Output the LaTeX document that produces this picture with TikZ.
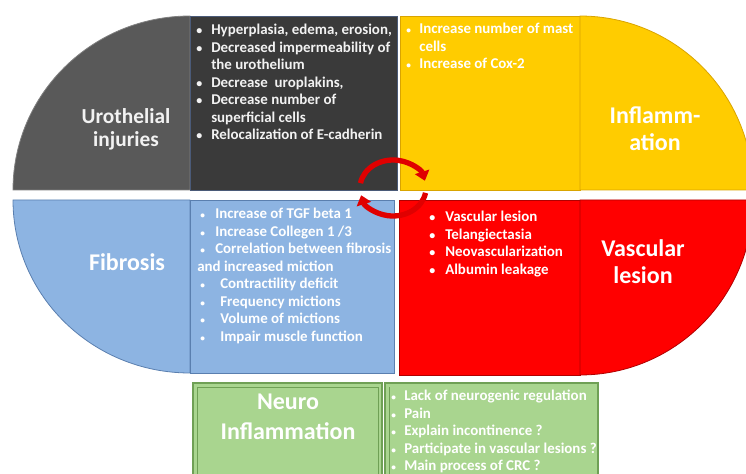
\documentclass[tikz,border=0pt]{standalone}
\usepackage{fontspec}
\setmainfont{Carlito}
\usetikzlibrary{arrows.meta}
\definecolor{uroDark}{HTML}{3A3A3A}
\definecolor{uroGray}{HTML}{595959}
\definecolor{uroEdge}{HTML}{4A5A78}
\definecolor{inflYellow}{HTML}{FFCC00}
\definecolor{inflEdge}{HTML}{D9A400}
\definecolor{fibBlue}{HTML}{8DB4E2}
\definecolor{fibEdge}{HTML}{5A7FAF}
\definecolor{vasRed}{HTML}{FF0000}
\definecolor{vasEdge}{HTML}{B00000}
\definecolor{neuGreen}{HTML}{A9D58F}
\definecolor{neuEdge}{HTML}{6FA055}
\definecolor{txtLight}{HTML}{F2F2F2}
\tikzset{
  heading/.style={align=center, text=white, inner sep=0pt,
    font=\bfseries\fontsize{18}{20.25}\selectfont},
  bullets/.style={align=left, anchor=base west, text=white, inner sep=0pt,
    font=\bfseries\fontsize{11.2}{13.1}\selectfont},
  panel/.style={line width=0.6pt},
  cycarrow/.style={line width=4pt, draw=red!88!black, -{Triangle[length=7pt, width=11pt]}}
}
\newcommand{\bul}[1]{\makebox[#1][l]{\fontsize{9}{9}\selectfont\textbullet}}
\newcommand{\sbul}[1]{\makebox[#1][l]{\fontsize{7}{7}\selectfont\textbullet}}

\begin{document}
\begin{tikzpicture}[x=0.75pt, y=-0.75pt]
  \useasboundingbox (0,0) rectangle (746,474);
  \clip (0,0) rectangle (746,474);

  % urothelial injuries
  \filldraw[panel, fill=uroGray, draw=gray] (190,190) -- (13,190)
    arc[start angle=180, end angle=270, x radius=177, y radius=174] -- cycle;
  \filldraw[panel, fill=uroDark, draw=uroEdge] (190,16) rectangle (397,190);
  \node[heading, text=txtLight, font=\bfseries\fontsize{16}{17.3}\selectfont] (uroT) at (126,129) {Urothelial\\injuries};
  % base anchor sits on the last line
  \node[bullets, text=txtLight] (uroL) at (196,139.5) {\bul{11.25pt}Hyperplasia, edema, erosion,\\
    \bul{11.25pt}Decreased impermeability of\\
    \hspace*{11.25pt}the urothelium\\
    \bul{11.25pt}Decrease~ uroplakins,\\
    \bul{11.25pt}Decrease number of\\
    \hspace*{11.25pt}superficial cells\\
    \bul{11.25pt}Relocalization of E-cadherin};

  % inflammation
  \filldraw[panel, fill=inflYellow, draw=inflEdge] (400,16) rectangle (580,190);
  \filldraw[panel, fill=inflYellow, draw=inflEdge] (580,190) -- (580,16)
    arc[start angle=270, end angle=360, x radius=173, y radius=174] -- cycle;
  \node[heading] (inflT) at (655,129) {Inflamm-\\ation};
  \node[bullets] (inflL) at (406,68.5) {\sbul{9.75pt}Increase number of mast\\
    \hspace*{9.75pt}cells\\
    \sbul{9.75pt}Increase of Cox-2};

  % fibrosis
  \filldraw[panel, fill=fibBlue, draw=fibEdge] (190,200) -- (13,200)
    arc[start angle=180, end angle=90, x radius=177, y radius=173] -- cycle;
  \filldraw[panel, fill=fibBlue, draw=fibEdge] (190,200) rectangle (394,373);
  \node[heading] (fibT) at (127,262) {Fibrosis};
  \node[bullets] (fibL) at (197,341) {\hspace*{2.25pt}\sbul{11.25pt}Increase of TGF beta 1\\
    \hspace*{2.25pt}\sbul{11.25pt}Increase Collegen 1 /3\\
    \hspace*{2.25pt}\sbul{11.25pt}Correlation between fibrosis\\
    and increased miction\\
    \hspace*{2.25pt}\sbul{15pt}Contractility deficit\\
    \hspace*{2.25pt}\sbul{15pt}Frequency mictions\\
    \hspace*{2.25pt}\sbul{15pt}Volume of mictions\\
    \hspace*{2.25pt}\sbul{15pt}Impair muscle function};

  % vascular lesion
  \filldraw[panel, fill=vasRed, draw=vasEdge] (399,200) rectangle (580,375);
  \filldraw[panel, fill=vasRed, draw=vasEdge] (580,200) -- (753,200)
    arc[start angle=0, end angle=90, x radius=173, y radius=175] -- cycle;
  \node[heading] (vasT) at (643,262) {Vascular\\lesion};
  \node[bullets] (vasL) at (429,274) {\bul{12pt}Vascular lesion\\
    \bul{12pt}Telangiectasia\\
    \bul{12pt}Neovascularization\\
    \bul{12pt}Albumin leakage};

  % neuro inflammation
  \filldraw[line width=1pt, fill=neuGreen, draw=neuEdge] (193,383) rectangle (382,480);
  \draw[line width=0.5pt, neuEdge] (197,387) rectangle (378,480);
  \filldraw[line width=1pt, fill=neuGreen, draw=neuEdge] (385,383) rectangle (598,480);
  \draw[line width=0.5pt, neuEdge] (389,387) -- (389,480);
  \node[heading, font=\bfseries\fontsize{18}{22.5}\selectfont] (neuT) at (288,417) {Neuro\\Inflammation};
  \node[bullets] (neuL) at (391,470.5) {\sbul{9.75pt}Lack of neurogenic regulation\\
    \sbul{9.75pt}Pain\\
    \sbul{9.75pt}Explain incontinence ?\\
    \sbul{9.75pt}Participate in vascular lesions ?\\
    \sbul{9.75pt}Main process of CRC ?};

  % cycle arrows
  \coordinate (cyc) at (393,188);
  \draw[cycarrow] ([shift={(190:33 and 28)}]cyc)
    arc[start angle=190, end angle=345, x radius=33, y radius=28];
  \draw[cycarrow] ([shift={(10:33 and 28)}]cyc)
    arc[start angle=10, end angle=165, x radius=33, y radius=28];
\end{tikzpicture}
\end{document}
